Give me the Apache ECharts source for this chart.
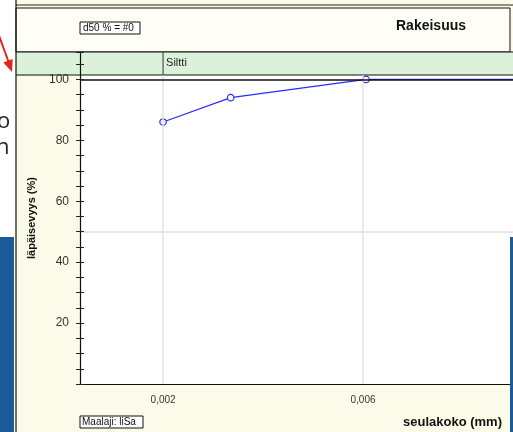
<!DOCTYPE html>
<html><head><meta charset="utf-8">
<script src="https://cdn.jsdelivr.net/npm/echarts/dist/echarts.min.js"></script>
<style>html,body{margin:0;padding:0;background:#fff;overflow:hidden}#c{width:513px;height:432px;}</style>
</head><body><div id="c"></div>
<script>
// ---- data ----
const sieveSizes = [0.002, 0.0029, 0.0061, 0.02];   // mm
const passing = [86, 94, 100, 100];                 // %
const gridLinesX = [0.002, 0.006];
const xTickLabels = ['0,002', '0,006'];
const yLabelValues = [20, 40, 60, 80, 100];
const bandLabel = 'Siltti';
const bandStart = 0.002;

const FONT = '"Liberation Sans", Arial, sans-serif';
const Y_MIN = 0, Y_MAX = 109, FRAME_TOP = 101.3;
const chart = echarts.init(document.getElementById('c'), null, {renderer: 'canvas'});

const blue = '#2b2bff';
const option = {
  animation: false,
  backgroundColor: 'transparent',
  grid: {left: 80, right: 0, top: 52, bottom: 48, show: true, backgroundColor: '#ffffff', borderWidth: 0, containLabel: false},
  xAxis: {
    type: 'log', min: 0.001267, max: 0.01368, z: 5,
    axisLine: {show: true, lineStyle: {color: '#111', width: 1.2}},
    axisTick: {show: false}, axisLabel: {show: false}, splitLine: {show: false}, minorTick: {show: false}
  },
  yAxis: [{
    type: 'value', min: Y_MIN, max: Y_MAX, interval: 5, z: 5,
    name: 'läpäisevyys (%)', nameLocation: 'middle', nameGap: 43, nameRotate: 90,
    nameTextStyle: {fontFamily: FONT, fontSize: 11, fontWeight: 'bold', color: '#111'},
    axisLine: {show: true, lineStyle: {color: '#111', width: 1.2}},
    axisTick: {show: true, length: 4, inside: false, lineStyle: {color: '#222'}},
    axisLabel: {
      fontFamily: FONT, fontSize: 12, color: '#333', margin: 11,
      formatter: v => (yLabelValues.indexOf(Math.round(v)) >= 0 && Math.abs(v - Math.round(v)) < 1e-6) ? String(Math.round(v)) : ''
    },
    splitLine: {show: false}
  }, {
    type: 'value', min: Y_MIN, max: Y_MAX, interval: 5, position: 'left', z: 5,
    axisLine: {show: false},
    axisTick: {show: true, length: 4, inside: true, lineStyle: {color: '#222'}},
    axisLabel: {show: false}, splitLine: {show: false}
  }],
  series: [{
    type: 'line', z: 2, silent: true,
    data: sieveSizes.map((x, i) => [x, passing[i]]),
    symbol: 'none', lineStyle: {opacity: 0},
    markLine: {
      silent: true, symbol: 'none', animation: false,
      data: [
        ...gridLinesX.map((v, i) => ([
          {coord: [v, Y_MIN],
           lineStyle: {color: '#e3e3e3', width: 1.5, type: 'solid'},
           label: {show: true, position: 'start', distance: 11, formatter: xTickLabels[i], fontFamily: FONT, fontSize: 10, color: '#333'}},
          {coord: [v, FRAME_TOP]}
        ])),
        {yAxis: 50, lineStyle: {color: '#e6e6e6', width: 2, type: 'solid'}, label: {show: false}},
        {yAxis: 100, lineStyle: {color: '#111', width: 1.5, type: 'solid'}, label: {show: false}}
      ]
    }
  }, {
    type: 'line', z: 4,
    data: sieveSizes.map((x, i) => [x, passing[i]]),
    symbol: 'circle', symbolSize: 6.5, showSymbol: true,
    lineStyle: {color: blue, width: 1.2},
    itemStyle: {color: '#ffffff', borderColor: blue, borderWidth: 1.2}
  }]
};
chart.setOption(option);

const bx = chart.convertToPixel({xAxisIndex: 0}, bandStart);
const stripBlue = '#1c5b99';
chart.setOption({
  graphic: {elements: [
    {type: 'rect', z: -20, shape: {x: 0, y: 0, width: 513, height: 432}, style: {fill: '#ffffff'}},
    {type: 'rect', z: -19, shape: {x: 16, y: 0, width: 497, height: 432}, style: {fill: '#fbfbea'}},
    {type: 'line', z: 6, shape: {x1: 16, y1: 5, x2: 513, y2: 5}, style: {stroke: '#222', lineWidth: 1}},
    {type: 'rect', z: 3, shape: {x: 16, y: 8, width: 494, height: 44}, style: {fill: '#fefef7', stroke: '#111', lineWidth: 1}},
    {type: 'rect', z: 3, shape: {x: 16, y: 52, width: 497, height: 23}, style: {fill: '#dcf1da'}},
    {type: 'line', z: 3, shape: {x1: 16, y1: 52, x2: 513, y2: 52}, style: {stroke: '#111', lineWidth: 1}},
    {type: 'line', z: 3, shape: {x1: 16, y1: 75, x2: 513, y2: 75}, style: {stroke: '#111', lineWidth: 1.2}},
    {type: 'line', z: 3, shape: {x1: bx, y1: 52, x2: bx, y2: 75}, style: {stroke: '#333', lineWidth: 1}},
    {type: 'text', z: 6, x: bx + 3, y: 63, style: {text: bandLabel, fontFamily: FONT, fontSize: 11, fill: '#222', textVerticalAlign: 'middle'}},
    {type: 'line', z: 6, shape: {x1: 16, y1: 0, x2: 16, y2: 432}, style: {stroke: '#111', lineWidth: 1.2}},
    {type: 'rect', z: 6, shape: {x: 80, y: 22, width: 60, height: 12}, style: {fill: '#ffffff', stroke: '#111', lineWidth: 1}},
    {type: 'text', z: 7, x: 83, y: 28.5, style: {text: 'd50 % = #0', fontFamily: FONT, fontSize: 10, fill: '#111', textVerticalAlign: 'middle'}},
    {type: 'text', z: 6, x: 396, y: 26, style: {text: 'Rakeisuus', fontFamily: FONT, fontSize: 14, fontWeight: 'bold', fill: '#111', textVerticalAlign: 'middle'}},
    {type: 'rect', z: 6, shape: {x: 80, y: 416, width: 63, height: 12}, style: {fill: '#ffffff', stroke: '#111', lineWidth: 1}},
    {type: 'text', z: 7, x: 82, y: 422.5, style: {text: 'Maalaji: liSa', fontFamily: FONT, fontSize: 10, fill: '#111', textVerticalAlign: 'middle'}},
    {type: 'text', z: 6, x: 502, y: 422, style: {text: 'seulakoko (mm)', fontFamily: FONT, fontSize: 13, fontWeight: 'bold', fill: '#111', textAlign: 'right', textVerticalAlign: 'middle'}},
    {type: 'rect', z: 10, shape: {x: 0, y: 237, width: 14, height: 195}, style: {fill: stripBlue}},
    {type: 'rect', z: 10, shape: {x: 510, y: 237, width: 3, height: 195}, style: {fill: stripBlue}},
    {type: 'line', z: 10, shape: {x1: -2, y1: 33, x2: 9, y2: 63}, style: {stroke: '#e3261c', lineWidth: 2}},
    {type: 'polygon', z: 10, shape: {points: [[12, 72], [3.3, 62.4], [12.7, 59]]}, style: {fill: '#e3261c'}},
    {type: 'text', z: 10, x: -3, y: 133, style: {text: 'o', fontFamily: '"Open Sans", "Liberation Sans", sans-serif', fontSize: 22, fill: '#222', textVerticalAlign: 'bottom'}},
    {type: 'text', z: 10, x: -4, y: 159, style: {text: 'n', fontFamily: '"Open Sans", "Liberation Sans", sans-serif', fontSize: 22, fill: '#222', textVerticalAlign: 'bottom'}}
  ]}
});
</script>
</body></html>
